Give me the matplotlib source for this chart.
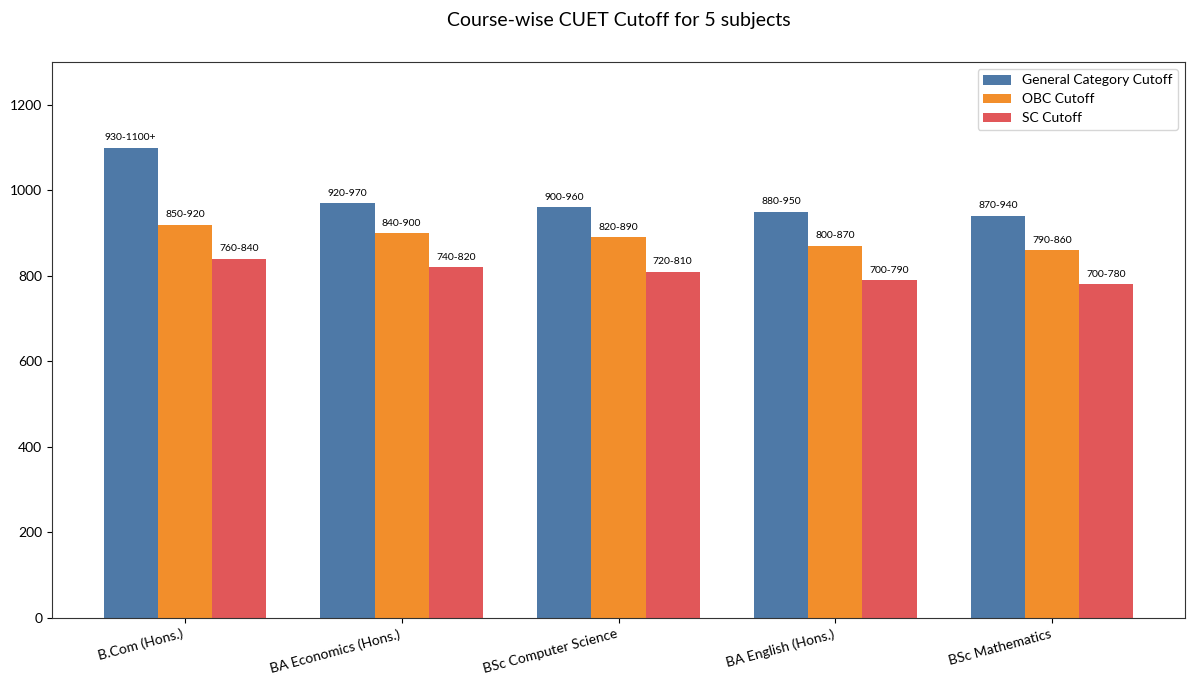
import matplotlib
matplotlib.use("Agg")
import matplotlib.pyplot as plt
import numpy as np

plt.rcParams['font.family'] = ['Lato', 'DejaVu Sans']

courses = ["B.Com (Hons.)", "BA Economics (Hons.)", "BSc Computer Science",
           "BA English (Hons.)", "BSc Mathematics"]
general = [1100, 970, 960, 950, 940]
obc = [920, 900, 890, 870, 860]
sc = [840, 820, 810, 790, 780]
general_lbl = ["930-1100+", "920-970", "900-960", "880-950", "870-940"]
obc_lbl = ["850-920", "840-900", "820-890", "800-870", "790-860"]
sc_lbl = ["760-840", "740-820", "720-810", "700-790", "700-780"]
series_names = ["General Category Cutoff", "OBC Cutoff", "SC Cutoff"]
colors = ["#4e79a7", "#f28e2b", "#e15759"]

fig = plt.figure(figsize=(12, 6.86), dpi=100)
ax = fig.add_axes([52/1200, 1 - 618/686, (1185-52)/1200, (618-62)/686])

x = np.arange(len(courses))
w = 0.25
for i, (vals, lbls, name, c) in enumerate(zip([general, obc, sc],
                                               [general_lbl, obc_lbl, sc_lbl],
                                               series_names, colors)):
    bars = ax.bar(x + (i - 1) * w, vals, w, color=c, label=name)
    for b, l in zip(bars, lbls):
        ax.annotate(l, (b.get_x() + b.get_width()/2, b.get_height()),
                    xytext=(0, 4), textcoords='offset points',
                    ha='center', va='bottom', fontsize=7.5)

ax.set_ylim(0, 1300)
ax.set_yticks([0, 200, 400, 600, 800, 1000, 1200])
ax.set_xticks(x)
ax.set_xticklabels(courses, rotation=15, ha='right', fontsize=10)
ax.tick_params(axis='y', labelsize=10)
for s in ax.spines.values():
    s.set_color('#333333')
ax.legend(loc='upper right', fontsize=10)
ax.set_title("Course-wise CUET Cutoff for 5 subjects", fontsize=14, pad=26)

fig.savefig("out.png", dpi=100)
